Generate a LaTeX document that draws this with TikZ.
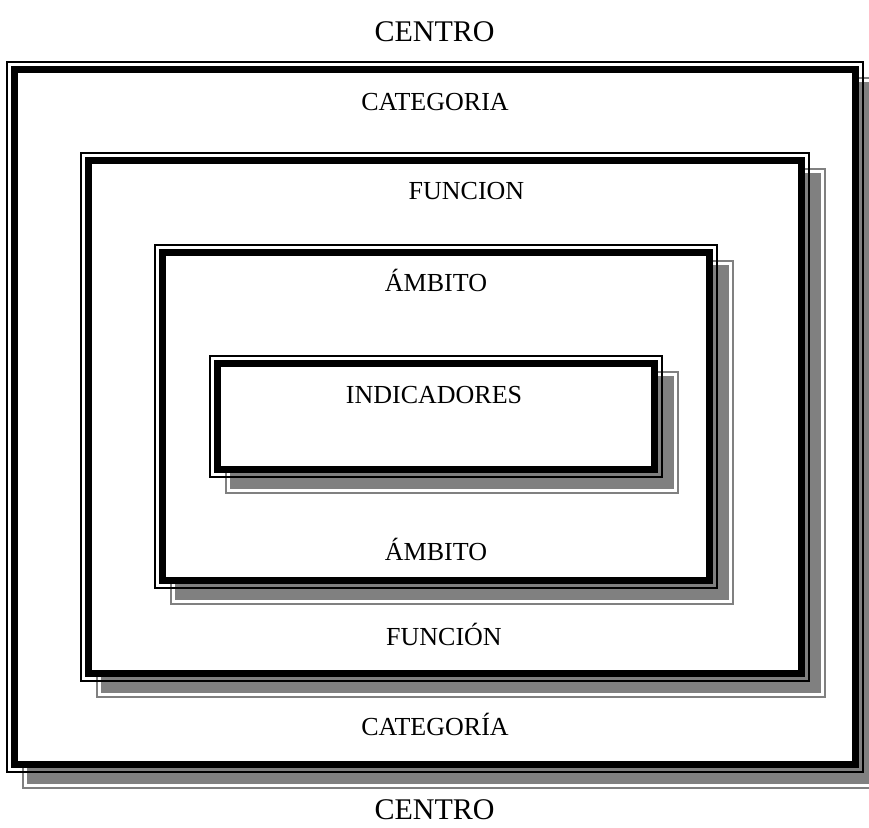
\documentclass[tikz,border=0pt]{standalone}
\usepackage{fontspec}
\setmainfont{Liberation Serif}
\definecolor{shadowgray}{HTML}{808080}
\tikzset{
  thinrule/.style={draw=black, line width=1.5pt},
  thickrule/.style={draw=black, line width=6.5pt, fill=white},
  shadowrule/.style={draw=shadowgray, line width=1.5pt},
  shadowbody/.style={fill=shadowgray},
  boxlabel/.style={font=\fontsize{26}{30}\selectfont, anchor=base, inner sep=0pt},
  titlelabel/.style={font=\fontsize{30}{34}\selectfont, anchor=base, inner sep=0pt},
}
% Thick-thin framed box with an offset gray shadow: corners x1,y1,x2,y2 of the outer thin rule
\newcommand{\framedbox}[4]{%
  \draw[shadowrule] (#1+16,#2+16) rectangle (#3+16,#4+16);
  \fill[shadowbody] (#1+20,#2+20) rectangle (#3+12,#4+12);
  \draw[thickrule] (#1+7.5,#2+7.5) rectangle (#3-7.5,#4-7.5);
  \draw[thinrule] (#1,#2) rectangle (#3,#4);
}
\begin{document}
\begin{tikzpicture}[x=1pt,y=-1pt]
  \useasboundingbox (0,0) rectangle (869,827);
  \clip (0,0) rectangle (869,827);

  % nested frames, outermost first
  \framedbox{7}{62}{863}{772}
  \framedbox{81}{153}{809}{681}
  \framedbox{155}{245}{717}{588}
  \framedbox{210}{356}{662}{477}

  % labels
  \node[titlelabel] (centroTop) at (434.5,41) {CENTRO};
  \node[boxlabel] (categoriaTop) at (435,110) {CATEGORIA};
  \node[boxlabel] (funcionTop) at (466.5,199) {FUNCION};
  \node[boxlabel] (ambitoTop) at (436,291) {ÁMBITO};
  \node[boxlabel] (indicadores) at (434,403) {INDICADORES};
  \node[boxlabel] (ambitoBottom) at (436,560) {ÁMBITO};
  \node[boxlabel] (funcionBottom) at (444,645) {FUNCIÓN};
  \node[boxlabel] (categoriaBottom) at (435,735) {CATEGORÍA};
  \node[titlelabel] (centroBottom) at (434.5,819) {CENTRO};
\end{tikzpicture}
\end{document}
